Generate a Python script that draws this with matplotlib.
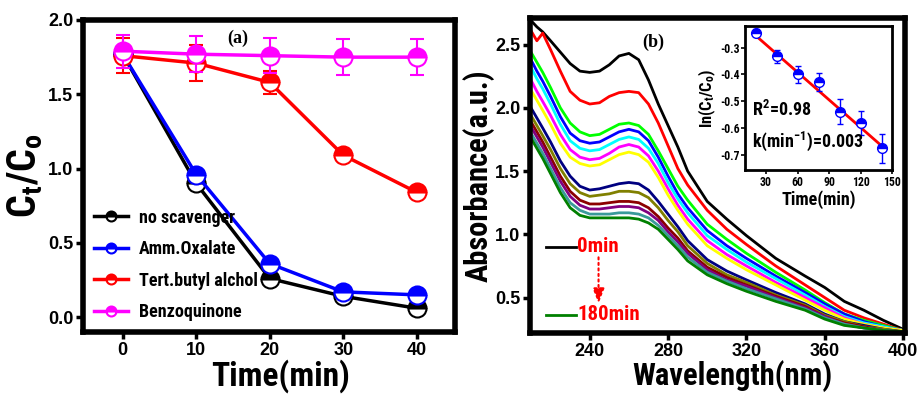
import matplotlib
matplotlib.use('Agg')
import matplotlib.pyplot as plt
import matplotlib.font_manager as fm

# pick a condensed font if there is one
names = {f.name for f in fm.fontManager.ttflist}
narrow = 'DejaVu Sans'
for n in ['Liberation Sans Narrow', 'Roboto Condensed', 'DejaVu Sans Condensed']:
    if n in names:
        narrow = n
        break

# ---- panel (a): scavenger test ----
time_a = [0, 10, 20, 30, 40]
no_scav = [1.77, 0.90, 0.26, 0.14, 0.06]
amm_ox = [1.77, 0.96, 0.36, 0.17, 0.15]
tba = [1.76, 1.71, 1.58, 1.09, 0.84]
bq = [1.79, 1.77, 1.76, 1.75, 1.75]
err_no = [0.03, 0.03, 0.04, 0.03, 0.03]
err_amm = [0.03, 0.03, 0.04, 0.03, 0.03]
err_tba = [0.12, 0.12, 0.08, 0.04, 0.03]
err_bq = [0.11, 0.12, 0.12, 0.12, 0.12]
labels_a = ['no scavenger', 'Amm.Oxalate', 'Tert.butyl alchol', 'Benzoquinone']

# ---- panel (b): UV-vis spectra, 0 to 180 min ----
wl = [210, 213, 216, 220, 225, 230, 235, 240, 245, 250, 255, 260, 265, 270,
      275, 280, 285, 290, 300, 310, 320, 335, 350, 360, 370, 380, 390, 400]
s000 = [2.69, 2.64, 2.60, 2.53, 2.44, 2.35, 2.29, 2.28, 2.29, 2.34, 2.41, 2.43, 2.38, 2.22, 2.03, 1.86, 1.69, 1.50, 1.26, 1.12, 0.99, 0.81, 0.67, 0.58, 0.47, 0.40, 0.32, 0.25]
s015 = [2.61, 2.53, 2.59, 2.46, 2.29, 2.13, 2.06, 2.03, 2.04, 2.09, 2.12, 2.13, 2.12, 2.03, 1.88, 1.70, 1.52, 1.39, 1.19, 1.04, 0.92, 0.75, 0.60, 0.50, 0.40, 0.34, 0.29, 0.24]
s030 = [2.44, 2.36, 2.28, 2.16, 2.00, 1.88, 1.81, 1.78, 1.79, 1.83, 1.87, 1.88, 1.86, 1.79, 1.66, 1.52, 1.38, 1.27, 1.08, 0.96, 0.85, 0.70, 0.56, 0.46, 0.37, 0.32, 0.28, 0.24]
s045 = [2.38, 2.29, 2.21, 2.09, 1.93, 1.80, 1.74, 1.72, 1.73, 1.77, 1.81, 1.83, 1.81, 1.74, 1.61, 1.46, 1.32, 1.21, 1.03, 0.91, 0.81, 0.67, 0.54, 0.45, 0.37, 0.31, 0.27, 0.24]
s060 = [2.32, 2.23, 2.15, 2.03, 1.87, 1.74, 1.68, 1.66, 1.67, 1.71, 1.75, 1.77, 1.75, 1.68, 1.56, 1.41, 1.28, 1.17, 0.99, 0.88, 0.78, 0.65, 0.52, 0.43, 0.35, 0.30, 0.27, 0.24]
s075 = [2.22, 2.13, 2.05, 1.94, 1.79, 1.67, 1.61, 1.59, 1.60, 1.64, 1.69, 1.71, 1.69, 1.62, 1.50, 1.36, 1.23, 1.12, 0.95, 0.84, 0.75, 0.62, 0.50, 0.42, 0.34, 0.29, 0.26, 0.24]
s090 = [2.14, 2.06, 1.98, 1.87, 1.72, 1.61, 1.56, 1.54, 1.55, 1.59, 1.63, 1.65, 1.63, 1.57, 1.45, 1.31, 1.19, 1.08, 0.91, 0.81, 0.72, 0.60, 0.48, 0.40, 0.33, 0.29, 0.26, 0.24]
s105 = [2.00, 1.92, 1.84, 1.73, 1.58, 1.46, 1.38, 1.35, 1.36, 1.38, 1.40, 1.41, 1.40, 1.35, 1.26, 1.16, 1.06, 0.95, 0.80, 0.71, 0.64, 0.54, 0.45, 0.37, 0.31, 0.28, 0.25, 0.23]
s120 = [1.94, 1.86, 1.78, 1.67, 1.52, 1.40, 1.33, 1.30, 1.31, 1.32, 1.34, 1.34, 1.33, 1.29, 1.21, 1.11, 1.02, 0.91, 0.77, 0.68, 0.62, 0.52, 0.44, 0.36, 0.31, 0.27, 0.25, 0.23]
s135 = [1.89, 1.81, 1.73, 1.61, 1.46, 1.34, 1.27, 1.24, 1.24, 1.25, 1.26, 1.26, 1.25, 1.21, 1.14, 1.05, 0.97, 0.87, 0.74, 0.66, 0.60, 0.51, 0.43, 0.35, 0.30, 0.27, 0.24, 0.23]
s150 = [1.85, 1.77, 1.69, 1.57, 1.42, 1.30, 1.23, 1.20, 1.20, 1.21, 1.22, 1.22, 1.21, 1.17, 1.11, 1.02, 0.94, 0.85, 0.72, 0.64, 0.59, 0.50, 0.42, 0.35, 0.29, 0.26, 0.24, 0.23]
s165 = [1.80, 1.72, 1.64, 1.52, 1.37, 1.25, 1.19, 1.16, 1.16, 1.16, 1.17, 1.17, 1.16, 1.13, 1.07, 0.99, 0.91, 0.82, 0.70, 0.63, 0.57, 0.49, 0.41, 0.34, 0.29, 0.26, 0.24, 0.23]
s180 = [1.76, 1.68, 1.60, 1.48, 1.33, 1.21, 1.15, 1.13, 1.13, 1.13, 1.13, 1.13, 1.12, 1.09, 1.04, 0.96, 0.88, 0.79, 0.68, 0.61, 0.55, 0.47, 0.40, 0.33, 0.28, 0.26, 0.24, 0.23]
spectra = [s000, s015, s030, s045, s060, s075, s090, s105, s120, s135, s150, s165, s180]
spec_colors = ['black', 'red', 'lime', 'blue', 'cyan', 'magenta', 'yellow',
               'navy', 'olive', '#8B0000', 'purple', '#3A9A9A', '#008000']

# ---- inset: kinetics ----
t_in = [20, 40, 60, 80, 100, 120, 140]
ln_c = [-0.245, -0.333, -0.400, -0.428, -0.538, -0.580, -0.675]
ln_err = [0.012, 0.025, 0.03, 0.035, 0.045, 0.045, 0.055]
fit_t = [20, 140]
fit_y = [-0.255, -0.665]

W, H = 919, 398
fig = plt.figure(figsize=(W / 100, H / 100), dpi=100)

nfam = [narrow, 'DejaVu Sans']

# panel (a)
ax1 = fig.add_axes([83 / W, 1 - 332 / H, 372 / W, 312 / H])
cols_a = ['black', 'blue', 'red', 'magenta']
series_a = [no_scav, amm_ox, tba, bq]
errs_a = [err_no, err_amm, err_tba, err_bq]
for y, e, c, lab in zip(series_a, errs_a, cols_a, labels_a):
    ax1.errorbar(time_a, y, yerr=e, fmt='none', ecolor=c, elinewidth=1.5,
                 capsize=5, capthick=1.5)
    ax1.plot(time_a, y, color=c, lw=2.5, marker='o', ms=13, fillstyle='top',
             markerfacecoloralt='white', mec=c, mew=1.5, label=lab)
ax1.set_xlim(-5.4, 45.2)
ax1.set_ylim(-0.1, 2.0)
ax1.set_xticks(time_a)
ax1.set_yticks([0.0, 0.5, 1.0, 1.5, 2.0])
ax1.set_yticklabels(['0.0', '0.5', '1.0', '1.5', '2.0'])
ax1.set_xlabel('Time(min)', family=nfam, weight='bold', size=24, va='center')
ax1.xaxis.set_label_coords(0.53, -0.14)
ax1.set_ylabel(r'$\mathregular{C_t/C_o}$', family=nfam, weight='bold', size=29,
               va='center')
ax1.yaxis.set_label_coords(-0.155, 0.5)
ax1.text(0.415, 0.94, '(a)', transform=ax1.transAxes, ha='center', va='center',
         family='Liberation Serif', weight='bold', size=13)
ax1.legend(loc='lower left', frameon=False, markerscale=0.55,
           handlelength=1.9, labelspacing=0.75, borderaxespad=0.2,
           handletextpad=0.6, prop=dict(family=nfam, weight='bold', size=13))

# panel (b)
ax2 = fig.add_axes([530 / W, 1 - 333 / H, 375 / W, 315 / H])
for s, c in zip(spectra, spec_colors):
    ax2.plot(wl, s, color=c, lw=2)
ax2.set_xlim(209.5, 401)
ax2.set_ylim(0.22, 2.71)
ax2.set_xticks([240, 280, 320, 360, 400])
ax2.set_yticks([0.5, 1.0, 1.5, 2.0, 2.5])
ax2.set_xlabel('Wavelength(nm)', family=nfam, weight='bold', size=22, va='center')
ax2.xaxis.set_label_coords(0.54, -0.138)
ax2.set_ylabel('Absorbance(a.u.)', family=nfam, weight='bold', size=22, va='center')
ax2.yaxis.set_label_coords(-0.137, 0.5)
ax2.text(0.328, 0.922, '(b)', transform=ax2.transAxes, ha='center', va='center',
         family='Liberation Serif', weight='bold', size=13)
ax2.plot([217.5, 233], [0.90, 0.90], color='black', lw=2)
ax2.text(233.5, 0.90, '0min', color='red', va='center', ha='left',
         family=nfam, weight='bold', size=15)
ax2.plot([217.5, 233], [0.365, 0.365], color='#008000', lw=2)
ax2.text(233.5, 0.365, '180min', color='red', va='center', ha='left',
         family=nfam, weight='bold', size=15)
ax2.annotate('', xy=(244.5, 0.43), xytext=(244.5, 0.84),
             arrowprops=dict(arrowstyle='-|>,head_width=0.35,head_length=0.9',
                             color='red', lw=1.5, ls=':'))

# inset
ax3 = fig.add_axes([745 / W, 1 - 170 / H, 147 / W, 144 / H])
ax3.plot(fit_t, fit_y, color='red', lw=2, zorder=1)
ax3.errorbar(t_in, ln_c, yerr=ln_err, fmt='none', ecolor='blue', elinewidth=1,
             capsize=2.5, capthick=1, zorder=2)
ax3.plot(t_in, ln_c, ls='none', marker='o', ms=7, fillstyle='top',
         markerfacecoloralt='white', color='blue', mec='blue', mew=1, zorder=3)
ax3.set_xlim(10, 150)
ax3.set_ylim(-0.755, -0.22)
ax3.set_xticks([30, 60, 90, 120, 150])
ax3.set_yticks([-0.3, -0.4, -0.5, -0.6, -0.7])
ax3.set_yticklabels(['-0.3', '-0.4', '-0.5', '-0.6', '-0.7'])
ax3.set_xlabel('Time(min)', family=nfam, weight='bold', size=13, labelpad=1)
ax3.set_ylabel(r'$\mathregular{ln(C_t/C_o)}$', family=nfam, weight='bold', size=12,
               labelpad=1)
ax3.text(0.05, 0.42, r'$\mathregular{R^2}$=0.98', transform=ax3.transAxes,
         va='center', size=13, family=nfam, weight='bold')
ax3.text(0.05, 0.2, r'k(min$\mathregular{^{-1}}$)=0.003', transform=ax3.transAxes,
         va='center', size=13, family=nfam, weight='bold')
for lab in ax3.get_xticklabels() + ax3.get_yticklabels():
    lab.set_fontfamily(nfam)
    lab.set_fontweight('bold')
    lab.set_fontsize(8.5)
ax3.tick_params(length=3, width=1.2, pad=1)
for sp in ax3.spines.values():
    sp.set_linewidth(2)

for ax in (ax1, ax2):
    for sp in ax.spines.values():
        sp.set_linewidth(4)
    ax.tick_params(length=5, width=2.5, pad=2)
    for lab in ax.get_xticklabels() + ax.get_yticklabels():
        lab.set_fontfamily('Liberation Sans')
        lab.set_fontweight('bold')
        lab.set_fontsize(13)

fig.savefig('out.png', dpi=100)
